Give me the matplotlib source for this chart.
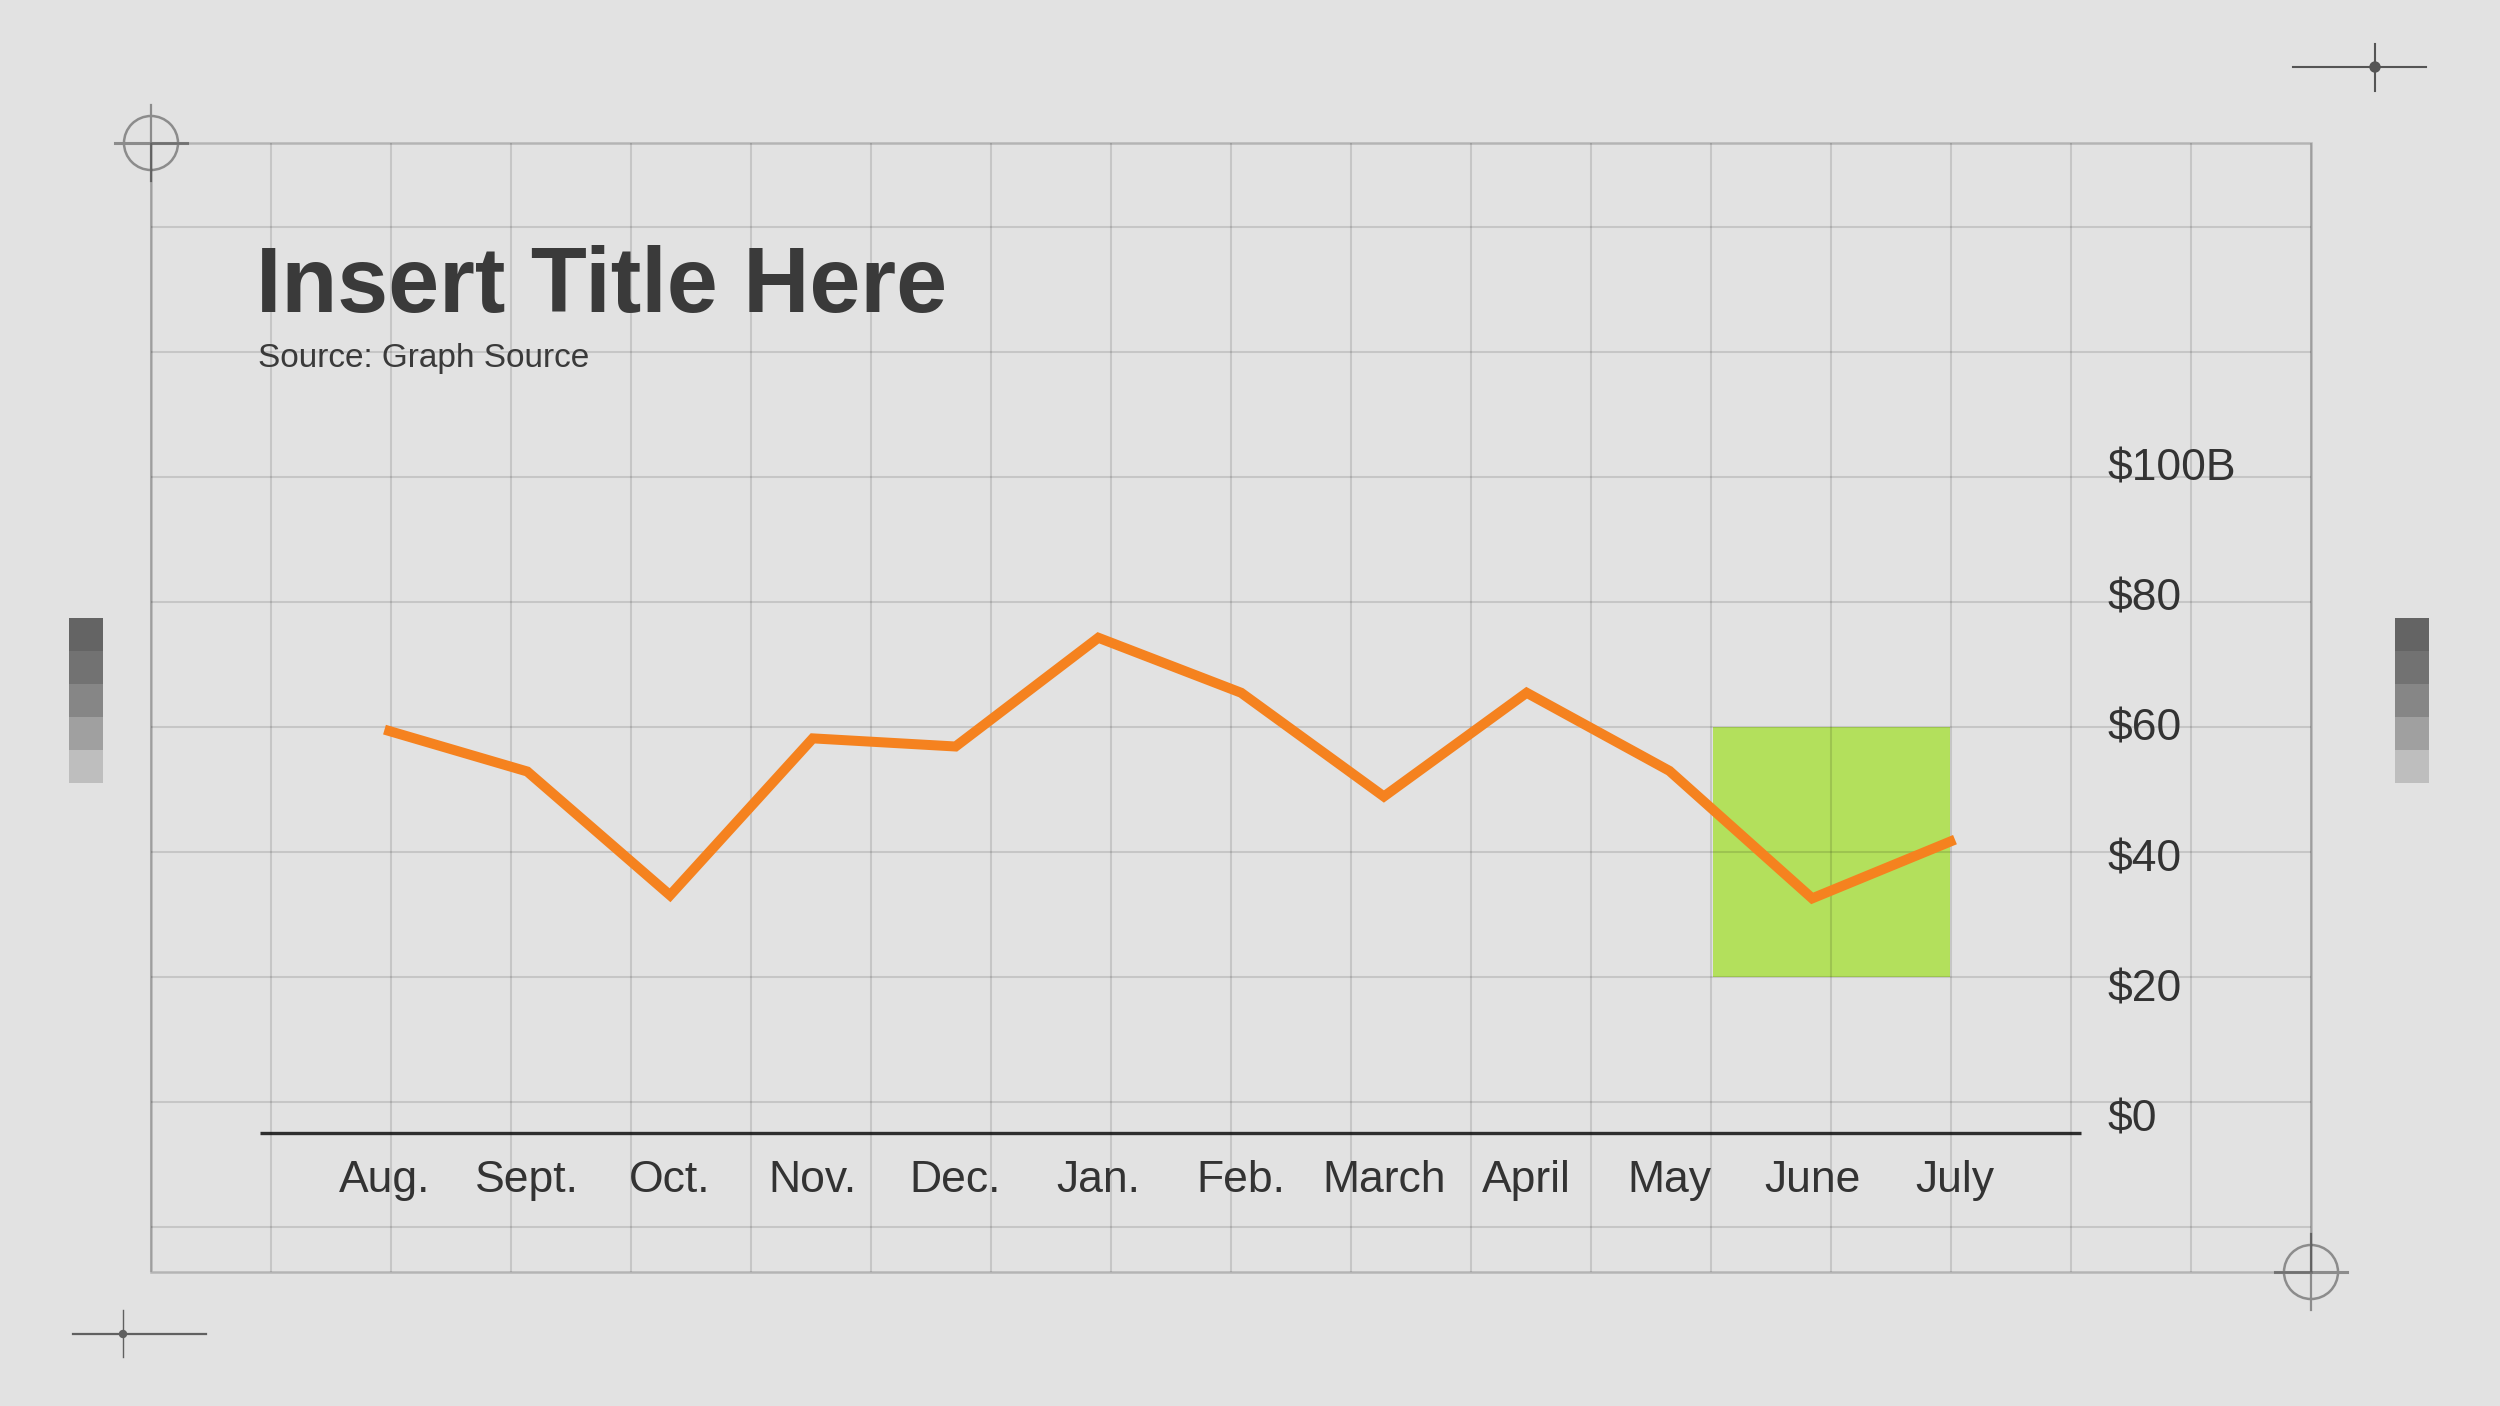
import matplotlib
matplotlib.use("Agg")
import matplotlib.pyplot as plt
from matplotlib.patches import Rectangle, Circle
import numpy as np

# 月份
months = ['Aug.', 'Sept.', 'Oct.', 'Nov.', 'Dec.', 'Jan.', 'Feb.', 'March', 'April', 'May', 'June', 'July']
# 数值 / $B
values = [59.5, 52.8, 33.0, 58.1, 56.8, 74.2, 65.4, 48.8, 65.4, 52.9, 32.5, 41.9]
# y轴标签
y_ticks = [0, 20, 40, 60, 80, 100]
y_labels = ['$0', '$20', '$40', '$60', '$80', '$100B']
grid_values = [-20, 0, 20, 40, 60, 80, 100, 120, 140]
# 高亮区域 (June 附近)
hl_x = [9.305, 10.965]
hl_y = [20, 60]

plt.rcParams['font.family'] = ['Liberation Sans', 'DejaVu Sans']

W, H = 2500, 1406
bg_color = '#E2E2E2'
text_color = '#333333'

fig = plt.figure(figsize=(25, 14.06), dpi=100, facecolor=bg_color)

# 背景层：像素坐标
bg = fig.add_axes([0, 0, 1, 1])
bg.set_xlim(0, W)
bg.set_ylim(H, 0)
bg.axis('off')
bg.set_facecolor(bg_color)
pix = bg.transData

# 数据层：0号月份在 x=384.5px，每月 142.77px；0值在 y=1101.5px，每单位 6.25px
ax = fig.add_axes([0, 0, 1, 1])
ax.patch.set_alpha(0)
ax.axis('off')
ax.set_xlim(-384.5 / 142.77, (W - 384.5) / 142.77)
ax.set_ylim((1101.5 - H) / 6.25, 1101.5 / 6.25)

# 高亮方块
ax.add_patch(Rectangle((hl_x[0], hl_y[0]), hl_x[1] - hl_x[0], hl_y[1] - hl_y[0],
                       facecolor='#B3E05C', edgecolor='none', zorder=1))

# 网格
ax.vlines(np.arange(151, 2313, 120), 143, 1272, colors='black', alpha=0.12,
          linewidth=1.5, transform=pix, zorder=2)
ax.hlines(grid_values, 151 / W, 2311 / W, colors='black', alpha=0.12,
          linewidth=1.5, transform=ax.get_yaxis_transform(), zorder=2)
ax.add_patch(Rectangle((151, 143), 2160, 1129, fill=False, edgecolor='black',
                       alpha=0.2, linewidth=1.8, transform=pix, zorder=2))

# 准星标记
for cx, cy in [(151, 143), (2311, 1272)]:
    bg.add_patch(Circle((cx, cy), 27, fill=False, edgecolor='#8C8C8C', linewidth=1.8))
    bg.plot([cx - 36, cx + 36], [cy, cy], color='#8C8C8C', linewidth=2.2)
    bg.plot([cx, cx], [cy - 38, cy + 38], color='#8C8C8C', linewidth=1.6)

bg.plot([2293, 2426], [67, 67], color='#555555', linewidth=1.5)
bg.plot([2375, 2375], [44, 91], color='#555555', linewidth=1.5)
bg.add_patch(Circle((2375, 67), 5, color='#555555'))

bg.plot([73, 206], [1334, 1334], color='#606060', linewidth=1.6)
bg.plot([123, 123], [1310, 1357], color='#606060', linewidth=1.0)
bg.add_patch(Circle((123, 1334), 3.5, color='#606060'))

# 灰阶色块
greys = ['#646464', '#727272', '#868686', '#A0A0A0', '#BEBEBE']
edges = [618, 651, 684, 717, 750, 783]
for sx in [69, 2395]:
    for k, g in enumerate(greys):
        bg.add_patch(Rectangle((sx, edges[k]), 34, edges[k + 1] - edges[k],
                               facecolor=g, edgecolor='none'))

# x轴基线
bg.plot([260, 2081], [1133, 1133], color='#2E2E2E', linewidth=2.4, solid_capstyle='butt')

# 折线
ax.plot(range(len(values)), values, color='#F5821F', linewidth=7.2,
        solid_joinstyle='miter', solid_capstyle='butt', zorder=3)

# 坐标标签（标签间距比网格略大）
for v, lab in zip(y_ticks, y_labels):
    ax.text(2108 / W, -4.88 + v * 1.0432, lab, transform=ax.get_yaxis_transform(),
            ha='left', va='baseline', fontsize=32, color=text_color)
for i, m in enumerate(months):
    ax.text(i, 1 - 1192 / H, m, transform=ax.get_xaxis_transform(),
            ha='center', va='baseline', fontsize=32, color=text_color)

# 标题
fig.text(256 / W, 1 - 312 / H, 'Insert Title Here', fontsize=66, fontweight='bold',
         color='#3A3A3A', ha='left', va='baseline')
fig.text(258 / W, 1 - 367 / H, 'Source: Graph Source', fontsize=24,
         color='#3A3A3A', ha='left', va='baseline')

fig.savefig('out.png', dpi=100, facecolor=bg_color)
